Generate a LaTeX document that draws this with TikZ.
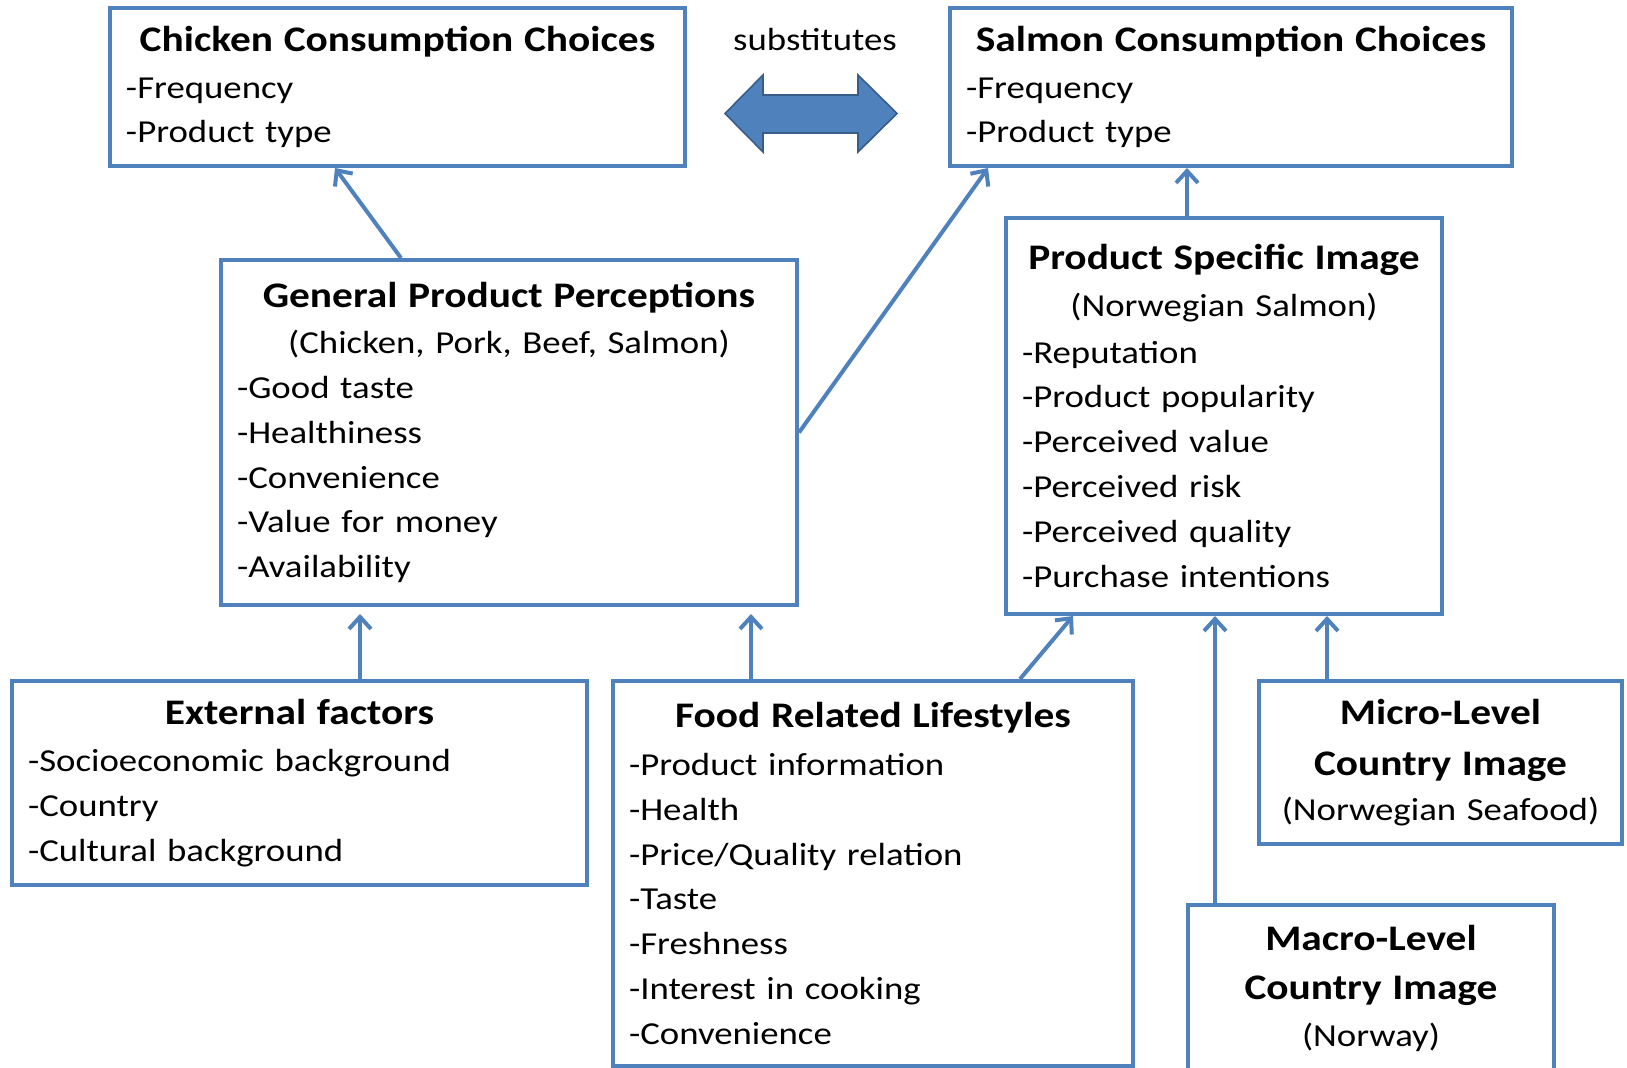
\documentclass[tikz,border=0pt]{standalone}
\usepackage{fontspec}
\setmainfont{Carlito}[FakeStretch=1.15]
\usetikzlibrary{arrows.meta}
\usepackage{xcolor}
\definecolor{boxblue}{HTML}{4F81BD}
\definecolor{arrowedge}{HTML}{385D8A}
\setlength{\parindent}{0pt}
\newcommand{\headtext}{\fontsize{18}{24}\selectfont\bfseries}
\newcommand{\bodytext}{\fontsize{16}{22.4}\selectfont}
\newcommand{\ctitle}[1]{\makebox[\hsize]{#1}}

\begin{document}
\begin{tikzpicture}[
  x=0.5pt, y=-0.5pt,
  box/.style={draw=boxblue, line width=2pt, inner xsep=8pt, inner ysep=3pt, align=left, font=\bodytext},
  conn/.style={boxblue, line width=2pt, -{Straight Barb[length=6pt,width=11pt]}}
]
\useasboundingbox (0,0) rectangle (1627,1068);

% consumption choices
\node[box, text width=271.5pt, minimum height=79pt] (chick) at (397.5,87)
  {\ctitle{\headtext Chicken Consumption Choices}\\[1pt]-Frequency\\-Product type};
\node[box, text width=265pt, minimum height=79pt] (salm) at (1231,87)
  {\ctitle{\headtext Salmon Consumption Choices}\\[1pt]-Frequency\\-Product type};

\node[font=\bodytext] (subst) at (815,40) {substitutes};
\draw[fill=boxblue, draw=arrowedge, line width=0.8pt]
  (725,113.5) -- (763,75) -- (763,95) -- (858,95) -- (858,75) -- (897,113.5)
  -- (858,152) -- (858,133) -- (763,133) -- (763,152) -- cycle;

% perceptions and image
\node[box, text width=272pt, minimum height=172.5pt] (gpp) at (509,432.5)
  {\ctitle{\headtext General Product Perceptions}\\[0.7pt]
   \ctitle{(Chicken, Pork, Beef, Salmon)}\\
   -Good taste\\-Healthiness\\-Convenience\\-Value for money\\-Availability};
\node[box, text width=202pt, minimum height=198pt] (psi) at (1224,416)
  {\ctitle{\headtext Product Specific Image}\\[0.8pt]
   \ctitle{(Norwegian Salmon)}\\[1pt]
   -Reputation\\-Product popularity\\-Perceived value\\-Perceived risk\\-Perceived quality\\-Purchase intentions};

% background factors
\node[box, text width=271.5pt, minimum height=102pt] (ext) at (299.5,783)
  {\ctitle{\headtext External factors}\\[1.5pt]
   -Socioeconomic background\\-Country\\-Cultural background};
\node[box, text width=244pt, minimum height=192.5pt] (food) at (873,873.5)
  {\ctitle{\headtext Food Related Lifestyles}\\[1.5pt]
   -Product information\\-Health\\-Price/Quality relation\\-Taste\\-Freshness\\-Interest in cooking\\-Convenience};
\node[box, align=center, text width=165.5pt, minimum height=81.5pt] (micro) at (1440.5,762.5)
  {{\headtext Micro-Level\\[3pt]Country Image}\\(Norwegian Seafood)};
\node[box, align=center, text width=167pt, minimum height=83.5pt] (macro) at (1371,988.5)
  {{\headtext Macro-Level\\[2pt]Country Image}\\[1.5pt](Norway)};

% connectors
\coordinate (psitop) at ([xshift=91.5pt]psi.north west);
\coordinate (exttop) at ([xshift=175pt]ext.north west);
\coordinate (foodtop) at ([xshift=70pt]food.north west);
\coordinate (macrotop) at ([xshift=14.5pt]macro.north west);
\coordinate (microtop) at ([xshift=35pt]micro.north west);

\draw[conn] ([xshift=91pt]gpp.north west) -- ([xshift=113.5pt]chick.south west);
\draw[conn] (gpp.east) -- ([xshift=20pt]salm.south west);
\draw[conn] (psitop) -- (psitop |- salm.south);
\draw[conn, shorten >=3.5pt] (exttop) -- (exttop |- gpp.south);
\draw[conn, shorten >=3.5pt] (foodtop) -- (foodtop |- gpp.south);
\draw[conn] ([xshift=204.5pt]food.north west) -- ([xshift=34.5pt]psi.south west);
\draw[conn] (macrotop) -- (macrotop |- psi.south);
\draw[conn] (microtop) -- (microtop |- psi.south);

\end{tikzpicture}
\end{document}
